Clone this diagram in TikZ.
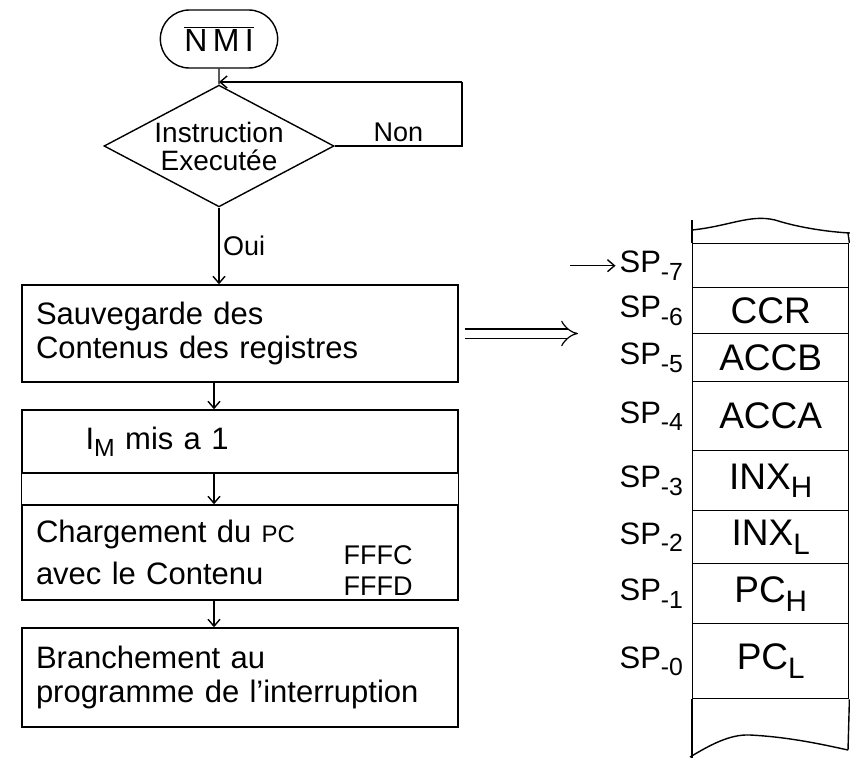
\documentclass[tikz,border=0pt]{standalone}
\usepackage{fontspec}
\setmainfont{Liberation Sans}
\usetikzlibrary{shapes.geometric,shapes.misc,arrows.meta}

\def\ux{1pt}
\def\uy{-1pt}
\newcommand{\lowtxt}[1]{\raisebox{-0.45ex}{\scalebox{0.8}{#1}}}

\tikzset{
  term/.style={draw, rounded rectangle, minimum width=124pt, minimum height=58pt, font=\fontsize{32}{34}\selectfont},
  decision/.style={draw, diamond, minimum width=230pt, minimum height=102pt, inner sep=-14pt, align=center, font=\fontsize{28}{28}\selectfont},
  process/.style={draw, rectangle, text width=408pt, inner xsep=14pt, align=left, font=\fontsize{31}{34}\selectfont},
  cell/.style={draw, rectangle, minimum width=156pt, inner sep=0pt, font=\fontsize{37}{38}\selectfont},
  splabel/.style={font=\fontsize{31}{34}\selectfont},
  tag/.style={font=\fontsize{27}{30}\selectfont},
}

\begin{document}
\begin{tikzpicture}[x=\ux,y=\uy, line width=1.4pt, >={Straight Barb[length=7pt,width=12pt]}]
  \useasboundingbox (0,0) rectangle (850,758);

  % flowchart
  \node[term] (nmi) at (219,39) {$\overline{\mbox{N\,M\,I}}$};
  \node[decision] (dec) at (219,146) {Instruction\\Executée};
  \node[process, minimum height=97pt] (save) at (240,333.5) {Sauvegarde des\\Contenus des registres};
  \node[process, minimum height=63pt] (mask) at (240,441.5) {\hspace*{1.6em}I\lowtxt{M} mis a 1};
  \node[process, minimum height=95pt] (load) at (240,552.5) {Chargement du {\fontsize{24}{26}\selectfont PC}\\[8pt]avec le Contenu};
  \node[align=center, inner sep=0pt, font=\fontsize{27}{31}\selectfont] (vec) at (378,571) {FFFC\\FFFD};
  \node[process, minimum height=99pt] (jump) at (240,677.5) {Branchement au\\programme de l'interruption};

  \coordinate (axis) at (214,0);
  \coordinate (back) at (462,82);
  \coordinate (dbl) at (578,0);
  \coordinate (ptr) at (570,0);

  \draw (nmi) -- (dec);
  \draw (dec.east) -- node[above, tag] {Non} (dec.east -| back) -- (back);
  \draw[->] (back) -- (back -| nmi.south);
  \draw[->] (dec.south) -- node[right, tag] {Oui} (dec.south |- save.north);
  \draw[->] (save.south -| axis) -- (mask.north -| axis);
  \draw (mask.south west) -- (mask.south west |- load.north);
  \draw (mask.south east) -- (mask.south east |- load.north);
  \draw[->] (mask.south -| axis) -- (load.north -| axis);
  \draw[->] (load.south -| axis) -- (jump.north -| axis);

  \draw[double, double distance=8pt, line width=1.2pt, -{Implies}, shorten <=6pt] (save.east) -- (save.east -| dbl);

  % stack
  \foreach \n/\ya/\yb/\txt in {7/243/287/{}, 6/287/333/CCR, 5/333/381/ACCB, 4/381/450/ACCA,
      3/450/510/{INX\lowtxt{H}}, 2/510/563/{INX\lowtxt{L}},
      1/563/623/{PC\lowtxt{H}}, 0/623/698/{PC\lowtxt{L}}}{
    \node[cell, minimum height={(\yb-\ya)*1pt}, anchor=north west] (cell\n) at (692,\ya) {\txt};
    \node[splabel, anchor=east] (sp\n) at ([xshift=-5pt]cell\n.west) {SP\lowtxt{-\n}};
  }
  \draw[->] (ptr |- sp7.west) -- (sp7.west);

  \draw (692,220) -- (cell7.north west);
  \draw (848,233) -- (cell7.north east);
  \draw (cell0.south west) -- (692,758);
  \draw (cell0.south east) -- (848,750);
  \draw (692,230) .. controls (730,226) and (750,214) .. (775,220) .. controls (800,228) and (830,232) .. (850,233);
  \draw (690,757) .. controls (710,745) and (730,734) .. (750,735) .. controls (790,737) and (825,745) .. (848,750);
\end{tikzpicture}
\end{document}
